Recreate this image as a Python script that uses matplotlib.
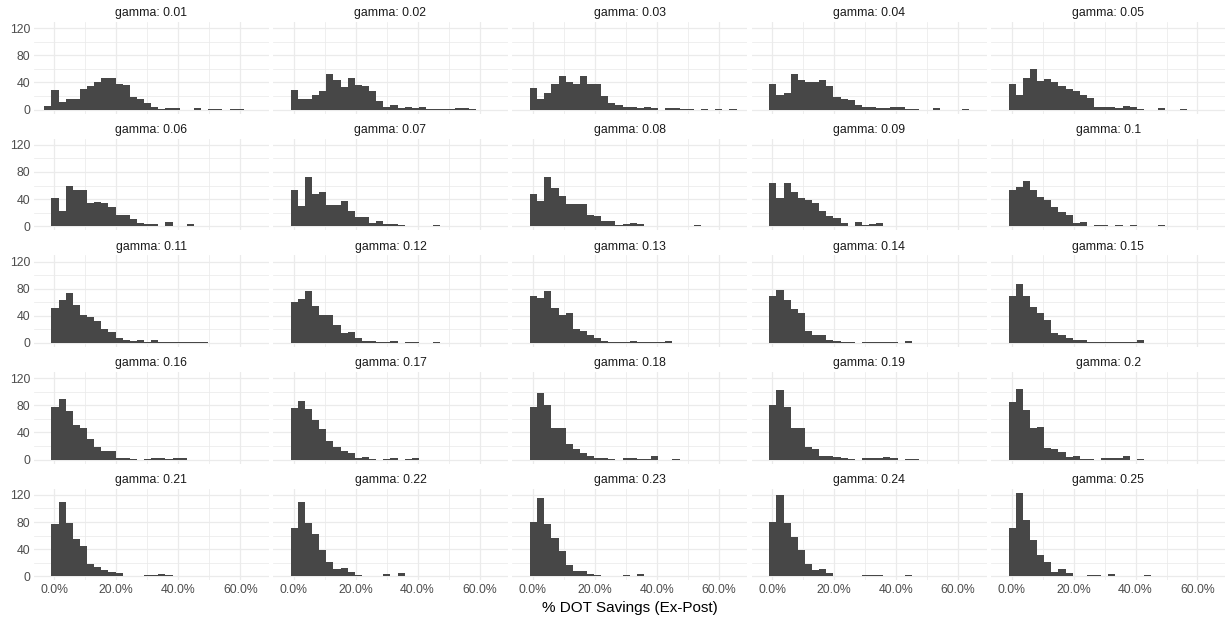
import matplotlib
matplotlib.use("Agg")
import matplotlib.pyplot as plt
from matplotlib.ticker import FuncFormatter
import numpy as np

plt.rcParams["font.family"] = ["Liberation Sans", "DejaVu Sans"]

# facet labels
GAMMAS = ["0.01", "0.02", "0.03", "0.04", "0.05",
          "0.06", "0.07", "0.08", "0.09", "0.1",
          "0.11", "0.12", "0.13", "0.14", "0.15",
          "0.16", "0.17", "0.18", "0.19", "0.2",
          "0.21", "0.22", "0.23", "0.24", "0.25"]

# shared histogram bins (fraction, not percent)
BIN_START = -0.0323
BIN_WIDTH = 0.02298
N_BINS = 30

# counts per bin for each gamma
g001 = [5, 29, 11, 15, 15, 30, 35, 41, 47, 47, 37, 36, 19, 15, 9, 3, 1, 2, 2, 0, 0, 2, 0, 1, 1, 0, 1, 1, 0, 0]
g002 = [0, 29, 15, 16, 22, 28, 53, 43, 33, 47, 36, 35, 27, 12, 4, 6, 2, 4, 2, 3, 1, 1, 1, 1, 2, 2, 1, 0, 0, 0]
g003 = [0, 32, 16, 24, 37, 49, 40, 38, 49, 37, 37, 20, 10, 6, 4, 3, 2, 3, 2, 0, 2, 2, 1, 1, 0, 1, 0, 1, 0, 1]
g004 = [0, 38, 22, 25, 52, 44, 40, 41, 44, 35, 18, 15, 14, 6, 4, 4, 2, 2, 3, 3, 1, 1, 0, 0, 2, 0, 0, 0, 1, 0]
g005 = [0, 38, 22, 46, 60, 42, 45, 41, 35, 30, 27, 22, 17, 3, 4, 4, 2, 5, 4, 1, 0, 0, 2, 0, 0, 1, 0, 0, 0, 0]
g006 = [0, 42, 23, 60, 54, 54, 34, 35, 34, 29, 16, 16, 11, 4, 3, 3, 1, 6, 1, 0, 3, 0, 1, 0, 0, 0, 0, 0, 0, 0]
g007 = [0, 53, 30, 72, 47, 51, 31, 31, 37, 22, 14, 13, 5, 7, 3, 3, 2, 1, 1, 1, 1, 2, 0, 1, 0, 0, 0, 0, 0, 0]
g008 = [0, 48, 37, 72, 56, 45, 33, 33, 33, 16, 15, 7, 7, 2, 3, 5, 3, 1, 1, 1, 1, 1, 0, 0, 2, 0, 0, 0, 0, 0]
g009 = [0, 64, 41, 64, 50, 41, 39, 34, 23, 15, 12, 5, 1, 6, 2, 3, 4, 1, 1, 0, 0, 1, 0, 0, 0, 0, 0, 0, 0, 0]
g010 = [0, 54, 58, 66, 53, 43, 39, 29, 21, 17, 5, 6, 1, 2, 2, 1, 2, 0, 2, 0, 1, 0, 2, 0, 0, 0, 0, 0, 0, 0]
g011 = [0, 52, 64, 73, 56, 41, 38, 32, 20, 16, 7, 4, 3, 5, 1, 5, 2, 2, 1, 1, 1, 1, 1, 0, 0, 0, 0, 0, 0, 0]
g012 = [0, 60, 65, 77, 54, 41, 41, 27, 15, 16, 7, 3, 3, 2, 2, 3, 0, 2, 2, 0, 0, 2, 0, 0, 0, 0, 0, 0, 0, 0]
g013 = [0, 69, 66, 77, 51, 41, 44, 20, 17, 11, 7, 3, 1, 1, 1, 3, 1, 1, 1, 1, 3, 0, 0, 0, 0, 0, 0, 0, 0, 0]
g014 = [0, 69, 78, 64, 50, 44, 17, 12, 12, 5, 3, 1, 1, 0, 1, 1, 1, 1, 1, 0, 3, 0, 0, 0, 0, 0, 0, 0, 0, 0]
g015 = [0, 69, 87, 69, 53, 44, 34, 14, 11, 7, 5, 4, 2, 1, 1, 2, 1, 1, 2, 4, 0, 0, 0, 0, 0, 0, 0, 0, 0, 0]
g016 = [0, 77, 90, 71, 51, 47, 31, 19, 12, 12, 2, 2, 1, 0, 1, 3, 2, 1, 2, 2, 0, 0, 0, 0, 0, 0, 0, 0, 0, 0]
g017 = [0, 76, 87, 74, 59, 45, 27, 18, 13, 10, 2, 4, 1, 0, 1, 2, 0, 1, 3, 0, 0, 0, 0, 0, 0, 0, 0, 0, 0, 0]
g018 = [0, 78, 98, 80, 47, 47, 23, 15, 10, 5, 3, 2, 1, 0, 2, 2, 1, 1, 5, 0, 0, 1, 0, 0, 0, 0, 0, 0, 0, 0]
g019 = [0, 80, 102, 77, 47, 47, 18, 16, 6, 6, 4, 2, 1, 0, 2, 2, 2, 4, 2, 0, 1, 1, 0, 0, 0, 0, 0, 0, 0, 0]
g020 = [0, 85, 104, 73, 46, 48, 17, 16, 11, 4, 5, 1, 1, 0, 2, 2, 3, 5, 0, 1, 0, 0, 0, 0, 0, 0, 0, 0, 0, 0]
g021 = [0, 77, 110, 78, 55, 44, 18, 14, 10, 6, 5, 0, 1, 1, 2, 2, 3, 2, 0, 1, 1, 0, 0, 0, 0, 0, 0, 0, 0, 0]
g022 = [0, 71, 110, 78, 62, 39, 21, 11, 12, 7, 2, 1, 1, 1, 3, 1, 5, 1, 0, 1, 1, 0, 0, 0, 0, 0, 0, 0, 0, 0]
g023 = [0, 80, 115, 77, 56, 37, 17, 8, 8, 3, 2, 1, 0, 0, 2, 0, 4, 0, 1, 1, 1, 0, 0, 0, 0, 0, 0, 0, 0, 0]
g024 = [0, 80, 120, 79, 58, 39, 18, 9, 11, 5, 1, 1, 1, 1, 2, 2, 2, 0, 1, 1, 2, 0, 0, 0, 0, 0, 0, 0, 0, 0]
g025 = [0, 71, 123, 83, 54, 32, 21, 7, 11, 5, 1, 1, 2, 2, 0, 4, 1, 1, 1, 1, 2, 0, 0, 0, 0, 0, 0, 0, 0, 0]

panel_counts = [g001, g002, g003, g004, g005, g006, g007, g008, g009, g010,
                g011, g012, g013, g014, g015, g016, g017, g018, g019, g020,
                g021, g022, g023, g024, g025]

W, H = 1225, 622
BAR_COLOR = "#474747"
GRID_COLOR = "#EBEBEB"

edges = BIN_START + BIN_WIDTH * np.arange(N_BINS)
span = N_BINS * BIN_WIDTH
xlim = (BIN_START - 0.05 * span, BIN_START + 1.05 * span)
ymax = max(max(c) for c in panel_counts)
ylim = (-0.05 * ymax, 1.05 * ymax)

# pixel scale of one panel
PX_PER_X = 310.0   # px per 1.0 (=100%)
PX_PER_Y = 0.678   # px per count

pct = FuncFormatter(lambda v, _: f"{v * 100:.1f}%")

fig = plt.figure(figsize=(W / 100, H / 100), dpi=100)

for k, (label, counts) in enumerate(zip(GAMMAS, panel_counts)):
    row, col = divmod(k, 5)
    x0 = 54.3 + 239.3 * col      # where 0% sits
    y0 = 109.5 + 116.7 * row     # where count 0 sits
    left = x0 + xlim[0] * PX_PER_X
    width = (xlim[1] - xlim[0]) * PX_PER_X
    top = y0 - ylim[1] * PX_PER_Y
    height = (ylim[1] - ylim[0]) * PX_PER_Y
    ax = fig.add_axes([left / W, 1 - (top + height) / H, width / W, height / H])

    ax.bar(edges, counts, width=BIN_WIDTH, align="edge", color=BAR_COLOR, linewidth=0)

    ax.set_xlim(xlim)
    ax.set_ylim(ylim)
    ax.set_xticks([0, 0.2, 0.4, 0.6])
    ax.set_xticks([0.1, 0.3, 0.5], minor=True)
    ax.set_yticks([0, 40, 80, 120])
    ax.set_yticks([20, 60, 100], minor=True)
    ax.xaxis.set_major_formatter(pct)
    ax.set_axisbelow(True)
    ax.grid(which="major", color=GRID_COLOR, linewidth=0.9)
    ax.grid(which="minor", color=GRID_COLOR, linewidth=0.55)
    for s in ax.spines.values():
        s.set_visible(False)
    ax.tick_params(which="both", length=0, labelsize=8.8, labelcolor="#4D4D4D")
    ax.tick_params(axis="y", pad=2.2)
    ax.tick_params(axis="x", pad=2.8)
    if col != 0:
        ax.tick_params(labelleft=False)
    if row != 4:
        ax.tick_params(labelbottom=False)
    ax.set_title(f"gamma: {label}", fontsize=8.8, color="#1A1A1A", pad=4)

fig.text(629.6 / W, 1 - 608 / H, "% DOT Savings (Ex-Post)", ha="center", va="center",
         fontsize=11, color="black")

fig.savefig("out.png", dpi=100, facecolor="white")
